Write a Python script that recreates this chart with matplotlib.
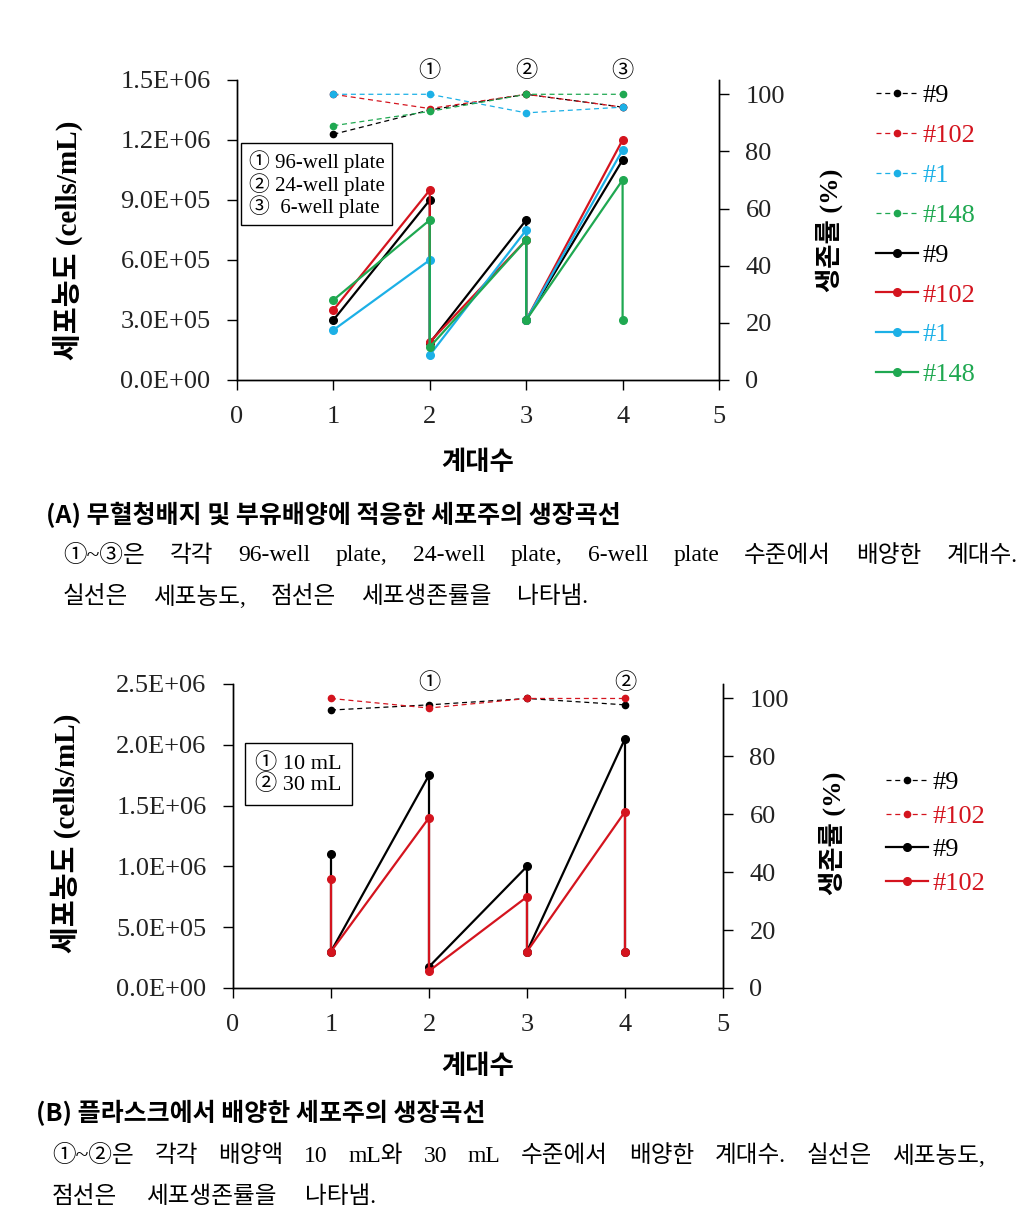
import matplotlib
matplotlib.use("Agg")
import matplotlib.pyplot as plt
from matplotlib.font_manager import FontProperties

# ---- data (A) ----
a_x = [1, 2, 2, 3, 3, 4]
a_x_148 = [1, 2, 2, 3, 3, 4, 4]
a_cells_9 = [3.0e5, 9.0e5, 1.85e5, 8.0e5, 3.0e5, 1.1e6]
a_cells_102 = [3.5e5, 9.5e5, 1.9e5, 7.0e5, 3.0e5, 1.2e6]
a_cells_1 = [2.5e5, 6.0e5, 1.25e5, 7.5e5, 3.0e5, 1.15e6]
a_cells_148 = [4.0e5, 8.0e5, 1.65e5, 7.0e5, 3.0e5, 1.0e6, 3.0e5]
a_vx = [1, 2, 3, 4]
a_via_9 = [86, 94.5, 100, 95.5]
a_via_102 = [100, 95, 100, 95.5]
a_via_1 = [100, 100, 93.5, 95.5]
a_via_148 = [89, 94, 100, 100]
a_marks = ["①", "②", "③"]
a_mark_x = [2, 3, 4]

# ---- data (B) ----
b_x = [1, 1, 2, 2, 3, 3, 4, 4]
b_cells_9 = [1.1e6, 3.0e5, 1.75e6, 1.75e5, 1.0e6, 3.0e5, 2.05e6, 3.0e5]
b_cells_102 = [9.0e5, 3.0e5, 1.4e6, 1.4e5, 7.5e5, 3.0e5, 1.45e6, 3.0e5]
b_vx = [1, 2, 3, 4]
b_via_9 = [96, 97.8, 100, 97.8]
b_via_102 = [100, 96.7, 100, 100]
b_marks = ["①", "②"]
b_mark_x = [2, 4]

a_yticks = [0, 3e5, 6e5, 9e5, 1.2e6, 1.5e6]
a_ylabels = ["0.0E+00", "3.0E+05", "6.0E+05", "9.0E+05", "1.2E+06", "1.5E+06"]
b_yticks = [0, 5e5, 1e6, 1.5e6, 2e6, 2.5e6]
b_ylabels = ["0.0E+00", "5.0E+05", "1.0E+06", "1.5E+06", "2.0E+06", "2.5E+06"]
v_ticks = [0, 20, 40, 60, 80, 100]

BLACK = "#000000"
RED = "#d4141e"
BLUE = "#1cb0e6"
GREEN = "#1fa851"

SERIF = ["Liberation Serif", "Noto Sans CJK KR"]
KR = ["Noto Sans CJK KR"]
W, H = 1032, 1224

fig = plt.figure(figsize=(W / 100, H / 100), dpi=100)


def fx(x):
    return x / W


def fy(y):
    return 1 - y / H


def style(ax, ax2, yticks, ylabels, ymax):
    ax.set_xlim(0, 5)
    ax.set_ylim(0, ymax)
    ax2.set_ylim(0, 105)
    ax.set_xticks(range(6))
    ax.set_yticks(yticks)
    ax.set_yticklabels(ylabels)
    ax2.set_yticks(v_ticks)
    for a in (ax, ax2):
        a.spines["top"].set_visible(False)
        for s in a.spines.values():
            s.set_linewidth(1.0)
        a.tick_params(length=7, width=1.0, labelsize=19, labelcolor="#222222")
        for lab in a.get_xticklabels() + a.get_yticklabels():
            lab.set_family(SERIF)
    ax.tick_params(axis="x", pad=12)
    ax.tick_params(axis="y", pad=12)
    ax2.tick_params(axis="y", pad=12)


# ================= panel A =================
axA = fig.add_axes([fx(237), fy(380), fx(719 - 237), 300 / H])
axA2 = axA.twinx()

sA = []
for xs, ys, c in [(a_x, a_cells_9, BLACK), (a_x, a_cells_102, RED),
                  (a_x, a_cells_1, BLUE), (a_x_148, a_cells_148, GREEN)]:
    ln, = axA.plot(xs, ys, "-", color=c, lw=1.6, marker="o", ms=5.5)
    sA.append(ln)
dA = []
for ys, c in [(a_via_9, BLACK), (a_via_102, RED), (a_via_1, BLUE), (a_via_148, GREEN)]:
    ln, = axA2.plot(a_vx, ys, color=c, lw=0.9, ls=(0, (4, 3)), marker="o", ms=4.5)
    dA.append(ln)

style(axA, axA2, a_yticks, a_ylabels, 1.5e6)

for m, x in zip(a_marks, a_mark_x):
    axA.annotate(m, xy=(x, 1.0), xycoords=("data", "axes fraction"),
                 xytext=(0, 6), textcoords="offset points",
                 ha="center", va="center", fontsize=16, family=SERIF)

axA.text(0.024, 0.765, "① 96-well plate\n② 24-well plate\n③  6-well plate",
         transform=axA.transAxes, ha="left", va="top", fontsize=15,
         family=SERIF, linespacing=0.98,
         bbox=dict(boxstyle="square,pad=0.35", fc="white", ec="black", lw=1.0))

legA = axA2.legend(dA + sA, ["#9", "#102", "#1", "#148"] * 2,
                   loc="upper left", bbox_to_anchor=(fx(876), fy(84)),
                   bbox_transform=fig.transFigure, frameon=False,
                   prop=FontProperties(family="Liberation Serif", size=19),
                   labelcolor="linecolor", handlelength=1.6, handletextpad=0.15,
                   labelspacing=0.62, borderpad=0, borderaxespad=0, numpoints=1)

fig.text(fx(68), fy(240), "세포농도 (cells/mL)", rotation=90, ha="center",
         va="center", fontsize=21, fontweight="bold", family=SERIF)
fig.text(fx(829), fy(230), "생존률 (%)", rotation=90, ha="center",
         va="center", fontsize=19, fontweight="bold", family=SERIF)
fig.text(fx(478), fy(463), "계대수", ha="center", va="center",
         fontsize=19, fontweight="bold", family=KR)

# ================= panel B =================
axB = fig.add_axes([fx(233), fy(988), fx(723 - 233), 304 / H])
axB2 = axB.twinx()

sB = []
for ys, c in [(b_cells_9, BLACK), (b_cells_102, RED)]:
    ln, = axB.plot(b_x, ys, "-", color=c, lw=1.6, marker="o", ms=5.5)
    sB.append(ln)
dB = []
for ys, c in [(b_via_9, BLACK), (b_via_102, RED)]:
    ln, = axB2.plot(b_vx, ys, color=c, lw=0.9, ls=(0, (4, 3)), marker="o", ms=4.5)
    dB.append(ln)

style(axB, axB2, b_yticks, b_ylabels, 2.5e6)

for m, x in zip(b_marks, b_mark_x):
    axB.annotate(m, xy=(x, 1.0), xycoords=("data", "axes fraction"),
                 xytext=(0, 0), textcoords="offset points",
                 ha="center", va="center", fontsize=16, family=SERIF)

axB.text(0.045, 0.772, "① 10 mL\n② 30 mL", transform=axB.transAxes,
         ha="left", va="top", fontsize=16, family=SERIF, linespacing=1.0,
         bbox=dict(boxstyle="square,pad=0.45", fc="white", ec="black", lw=1.0))

legB = axB2.legend(dB + sB, ["#9", "#102"] * 2,
                   loc="upper left", bbox_to_anchor=(fx(886), fy(771)),
                   bbox_transform=fig.transFigure, frameon=False,
                   prop=FontProperties(family="Liberation Serif", size=19),
                   labelcolor="linecolor", handlelength=1.6, handletextpad=0.15,
                   labelspacing=0.38, borderpad=0, borderaxespad=0, numpoints=1)

fig.text(fx(66), fy(833), "세포농도 (cells/mL)", rotation=90, ha="center",
         va="center", fontsize=21, fontweight="bold", family=SERIF)
fig.text(fx(832), fy(833), "생존률 (%)", rotation=90, ha="center",
         va="center", fontsize=19, fontweight="bold", family=SERIF)
fig.text(fx(478), fy(1067), "계대수", ha="center", va="center",
         fontsize=19, fontweight="bold", family=KR)

# ================= captions =================
fig.text(fx(46), fy(515), "(A) 무혈청배지 및 부유배양에 적응한 세포주의 생장곡선",
         ha="left", va="center", fontsize=18, fontweight="bold", family=KR)
fig.text(fx(36), fy(1113), "(B) 플라스크에서 배양한 세포주의 생장곡선",
         ha="left", va="center", fontsize=18, fontweight="bold", family=KR)

renderer = fig.canvas.get_renderer()


def caption_line(text, x0, x1, y):
    # spread words evenly between x0 and x1 (justified line)
    words = text.split(" ")
    items = [fig.text(0, fy(y), w, ha="left", va="center", fontsize=17, family=SERIF)
             for w in words]
    widths = [t.get_window_extent(renderer).width for t in items]
    gap = (x1 - x0 - sum(widths)) / (len(words) - 1)
    x = x0
    for t, w in zip(items, widths):
        t.set_x(fx(x))
        x += w + gap


caption_line("①~③은 각각 96-well plate, 24-well plate, 6-well plate 수준에서 배양한 계대수.",
             63, 1018, 556)
caption_line("실선은 세포농도, 점선은 세포생존률을 나타냄.", 63, 588, 597)
caption_line("①~②은 각각 배양액 10 mL와 30 mL 수준에서 배양한 계대수. 실선은 세포농도,",
             52, 985, 1156)
caption_line("점선은 세포생존률을 나타냄.", 52, 376, 1197)

fig.savefig("out.png", dpi=100, facecolor="white")
